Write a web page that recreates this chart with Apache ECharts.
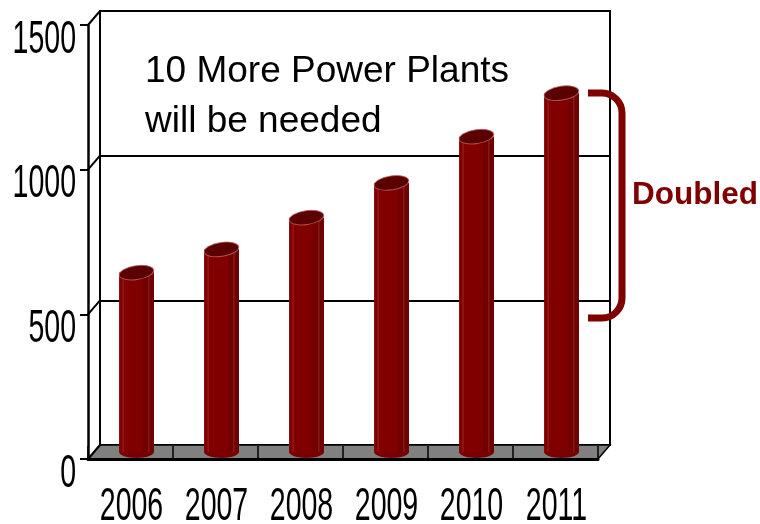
<!DOCTYPE html>
<html>
<head>
<meta charset="utf-8">
<script src="https://cdn.jsdelivr.net/npm/echarts@6.0.0/dist/echarts.min.js"></script>
<style>
  html, body { margin: 0; padding: 0; background: #fff; }
  #chart { width: 760px; height: 524px; }
</style>
</head>
<body>
<div id="chart"></div>
<script>
// Electricity demand by year, drawn as 3-D cylinders in a box frame
const years = ['2006', '2007', '2008', '2009', '2010', '2011'];
const demand = [620, 700, 810, 930, 1090, 1240];
const yTicks = [0, 500, 1000, 1500];
const noteLines = ['10 More Power Plants', 'will be needed'];
const bracketLabel = 'Doubled';

// Front plane of the box and the depth offset of its back wall
const FRONT = { left: 88, top: 25, right: 162, bottom: 65 };
const DEPTH = { dx: 12, dy: 14 };
const RED = '#800000';
const FONT = '"Liberation Sans", Arial, sans-serif';

function gridAt(f) {
  return {
    left: FRONT.left + DEPTH.dx * f,
    top: FRONT.top - DEPTH.dy * f,
    right: FRONT.right - DEPTH.dx * f,
    bottom: FRONT.bottom + DEPTH.dy * f,
    containLabel: false
  };
}

const valueAxisBase = { type: 'value', min: 0, max: 1500, interval: 500 };
const catAxisBase = { type: 'category', data: years, boundaryGap: true };

const chart = echarts.init(document.getElementById('chart'), null, { renderer: 'canvas' });

// curly bracket beside the last bars
const BR = { x0: 588, x1: 622, top: 93, bottom: 318, rad: 20 };
const bracketStyle = { stroke: RED, lineWidth: 7, fill: null };

chart.setOption({
  animation: false,
  backgroundColor: '#fff',
  grid: [
    gridAt(0),                      // front plane
    gridAt(0.5),                    // mid depth: cylinders stand here
    Object.assign(gridAt(1), {      // back wall
      show: true, borderColor: '#000', borderWidth: 2, backgroundColor: 'transparent'
    })
  ],
  xAxis: [
    Object.assign({}, catAxisBase, {
      gridIndex: 0, z: 10,
      axisLine: { show: true, lineStyle: { color: '#000', width: 3 } },
      axisTick: { show: true, inside: true, length: 13, lineStyle: { color: '#000', width: 1.5 } },
      axisLabel: { show: false }, splitLine: { show: false }
    }),
    Object.assign({}, catAxisBase, { gridIndex: 1, show: false }),
    Object.assign({}, catAxisBase, { gridIndex: 2, show: false })
  ],
  yAxis: [
    Object.assign({}, valueAxisBase, {
      gridIndex: 0, z: 10,
      axisLine: { show: true, lineStyle: { color: '#000', width: 2.5 } },
      axisTick: { show: true, length: 8, lineStyle: { color: '#000', width: 2 } },
      axisLabel: { show: false }, splitLine: { show: false }
    }),
    Object.assign({}, valueAxisBase, { gridIndex: 1, show: false }),
    Object.assign({}, valueAxisBase, {
      gridIndex: 2,
      axisLine: { show: false }, axisTick: { show: false }, axisLabel: { show: false },
      splitLine: { show: true, lineStyle: { color: '#000', width: 2 } }
    })
  ],
  series: [
    {
      // grey floor of the box
      type: 'custom', xAxisIndex: 0, yAxisIndex: 0, z: 2, silent: true,
      data: [[0, 0]],
      renderItem(params, api) {
        const cs = params.coordSys;
        const yb = api.coord([0, 0])[1];
        return {
          type: 'polygon',
          shape: { points: [
            [cs.x, yb], [cs.x + cs.width, yb],
            [cs.x + cs.width + DEPTH.dx, yb - DEPTH.dy], [cs.x + DEPTH.dx, yb - DEPTH.dy]
          ] },
          style: { fill: '#808080', stroke: '#000', lineWidth: 1.5 }
        };
      }
    },
    {
      // connectors from the front axis ticks to the back wall
      type: 'custom', xAxisIndex: 0, yAxisIndex: 0, z: 9, silent: true,
      data: yTicks.map(v => [0, v]),
      renderItem(params, api) {
        const cs = params.coordSys;
        const y = api.coord([0, api.value(1)])[1];
        return {
          type: 'line',
          shape: { x1: cs.x, y1: y, x2: cs.x + DEPTH.dx, y2: y - DEPTH.dy },
          style: { stroke: '#000', lineWidth: 2 }
        };
      }
    },
    {
      // cylinders
      type: 'custom', xAxisIndex: 1, yAxisIndex: 1, z: 5, silent: true,
      data: demand.map((v, i) => [i, v]),
      renderItem(params, api) {
        const i = api.value(0), v = api.value(1);
        const top = api.coord([i, v]);
        const base = api.coord([i, 0]);
        const r = api.size([1, 0])[0] * 0.205;
        const ry = r * 0.4;
        const cx = top[0], ty = top[1], by = base[1];
        return {
          type: 'group',
          children: [
            { type: 'ellipse', shape: { cx: cx, cy: by, rx: r, ry: ry * 0.85 }, style: { fill: '#780000' } },
            { type: 'rect', shape: { x: cx - r, y: ty, width: 2 * r, height: by - ty }, style: { fill: RED } },
            { type: 'rect', shape: { x: cx + r * 0.37, y: ty, width: r * 0.63, height: by - ty }, style: { fill: '#700000' } },
            { type: 'line', shape: { x1: cx - r * 0.77, y1: ty, x2: cx - r * 0.77, y2: by }, style: { stroke: 'rgba(190,80,80,0.45)', lineWidth: 1 } },
            { type: 'line', shape: { x1: cx + r * 0.71, y1: ty, x2: cx + r * 0.71, y2: by }, style: { stroke: 'rgba(190,80,80,0.45)', lineWidth: 1 } },
            {
              type: 'ellipse', x: cx, y: ty, rotation: 0.15,
              shape: { cx: 0, cy: 0, rx: r, ry: ry },
              style: { fill: '#5a0000', stroke: 'rgba(200,110,110,0.7)', lineWidth: 1 }
            }
          ]
        };
      }
    },
    {
      // value tick labels (condensed)
      type: 'custom', xAxisIndex: 0, yAxisIndex: 0, z: 10, silent: true,
      data: yTicks.map(v => [0, v]),
      renderItem(params, api) {
        const cs = params.coordSys;
        const v = api.value(1);
        const y = api.coord([0, v])[1];
        return {
          type: 'text', x: cs.x - 12, y: y + 15, scaleX: 0.62,
          style: { text: String(v), fontSize: 46, fontFamily: FONT, fill: '#000', align: 'right', verticalAlign: 'middle' }
        };
      }
    },
    {
      // year labels (condensed)
      type: 'custom', xAxisIndex: 0, yAxisIndex: 0, z: 10, silent: true,
      data: years.map((y, i) => [i, 0]),
      renderItem(params, api) {
        const i = api.value(0);
        const p = api.coord([i, 0]);
        return {
          type: 'text', x: p[0] + 1, y: p[1] + 48, scaleX: 0.62,
          style: { text: years[i], fontSize: 46, fontFamily: FONT, fill: '#000', align: 'center', verticalAlign: 'middle' }
        };
      }
    }
  ],
  graphic: [
    {
      type: 'text', x: 145, y: 72, z: 20,
      style: { text: noteLines[0], fontSize: 37, fontFamily: FONT, fill: '#000', align: 'left', verticalAlign: 'middle' }
    },
    {
      type: 'text', x: 145, y: 122, z: 20,
      style: { text: noteLines[1], fontSize: 37, fontFamily: FONT, fill: '#000', align: 'left', verticalAlign: 'middle' }
    },
    {
      type: 'group', z: 20,
      children: [
        { type: 'line', shape: { x1: BR.x0, y1: BR.top, x2: BR.x1 - BR.rad, y2: BR.top }, style: bracketStyle },
        { type: 'arc', shape: { cx: BR.x1 - BR.rad, cy: BR.top + BR.rad, r: BR.rad, startAngle: -Math.PI / 2, endAngle: 0, clockwise: true }, style: bracketStyle },
        { type: 'line', shape: { x1: BR.x1, y1: BR.top + BR.rad, x2: BR.x1, y2: BR.bottom - BR.rad }, style: bracketStyle },
        { type: 'arc', shape: { cx: BR.x1 - BR.rad, cy: BR.bottom - BR.rad, r: BR.rad, startAngle: 0, endAngle: Math.PI / 2, clockwise: true }, style: bracketStyle },
        { type: 'line', shape: { x1: BR.x1 - BR.rad, y1: BR.bottom, x2: BR.x0, y2: BR.bottom }, style: bracketStyle }
      ]
    },
    {
      type: 'text', x: 632, y: 195, z: 20,
      style: { text: bracketLabel, fontSize: 31.5, fontWeight: 'bold', fontFamily: FONT, fill: RED, align: 'left', verticalAlign: 'middle' }
    }
  ]
});
</script>
</body>
</html>
